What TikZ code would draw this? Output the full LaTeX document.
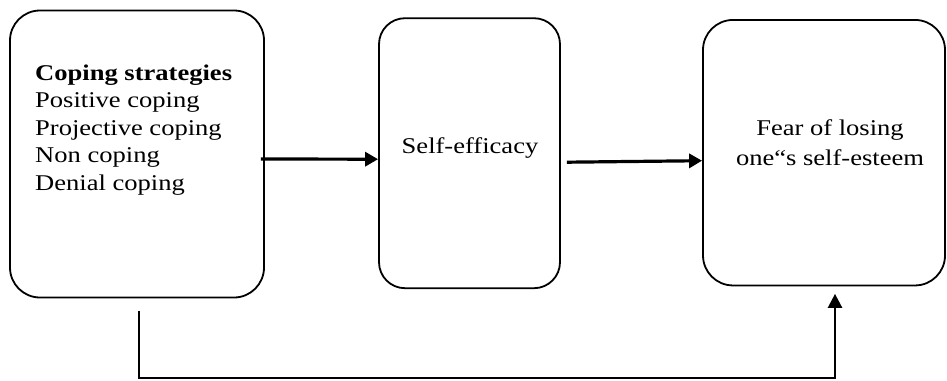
\documentclass[tikz,border=0pt]{standalone}
\usepackage{fontspec}
\setmainfont{Liberation Serif}[FakeStretch=1.18,BoldFeatures={FakeStretch=1.18}]
\usetikzlibrary{arrows.meta}
\begin{document}
\begin{tikzpicture}[x=1pt,y=-1pt,
  box/.style={draw,line width=1.8pt,inner sep=0pt},
  arr/.style={line width=3.2pt,-{Triangle[length=13pt,width=14pt]}},
  arrthin/.style={line width=2.4pt,-{Triangle[length=14pt,width=14pt]}},
  txt/.style={font=\fontsize{22.5}{27.5}\selectfont,inner sep=0pt}]
\useasboundingbox (0,0) rectangle (947,380);
\node[box,rounded corners=30pt,minimum width=254pt,minimum height=287pt] (b1) at (137,154) {};
\node[box,rounded corners=26pt,minimum width=181pt,minimum height=270pt] (b2) at (469.5,153.2) {};
\node[box,rounded corners=30pt,minimum width=242pt,minimum height=265.5pt] (b3) at (824,152.7) {};
\node[txt,anchor=north west,align=left] (t1) at (35,64.5) {\textbf{Coping strategies}\\Positive coping\\Projective coping\\Non coping\\Denial coping};
\node[txt,anchor=base] (t2) at (470,153) {Self-efficacy};
\node[txt,anchor=north,align=center,font=\fontsize{22.5}{30}\selectfont] (t3) at (830,119.5) {Fear of losing\\one``s self-esteem};
\draw[arr] ([shift={(-4,5)}]b1.east) -- ([shift={(0,6)}]b2.west);
\draw[arr] ([shift={(6,9)}]b2.east) -- ([shift={(0,8)}]b3.west);
\coordinate (bl) at (139,378);
\draw[arrthin] ([shift={(2,12.5)}]b1.south) -- (bl) -| ([shift={(11,7.5)}]b3.south);
\end{tikzpicture}
\end{document}
